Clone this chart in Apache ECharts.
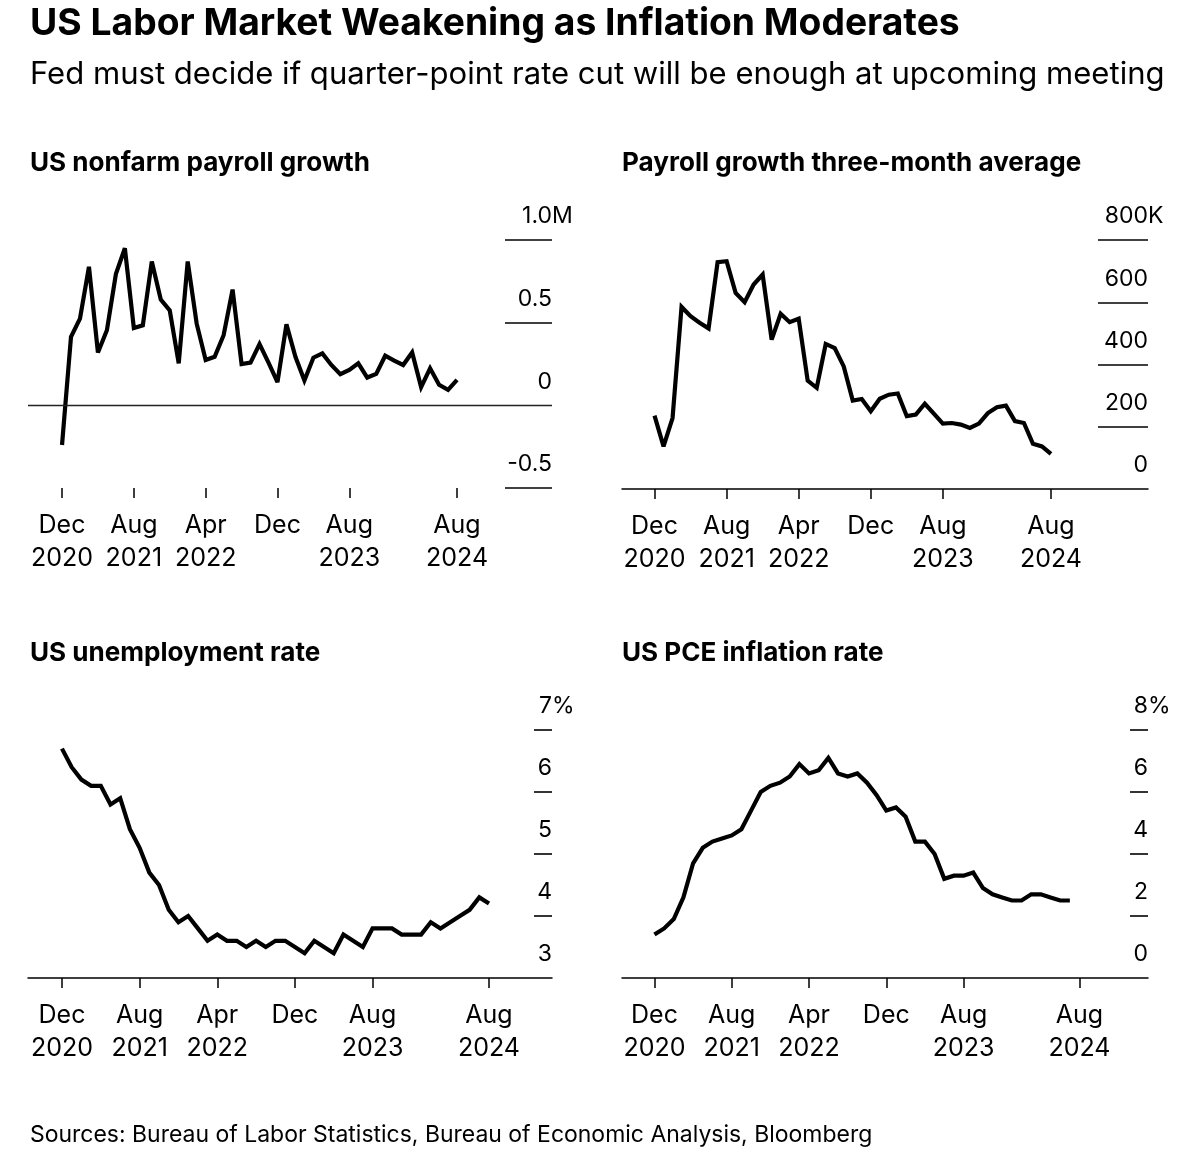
<!DOCTYPE html>
<html>
<head>
<meta charset="utf-8">
<script src="https://cdn.jsdelivr.net/npm/echarts@6.0.0/dist/echarts.min.js"></script>
<style>
html,body{margin:0;padding:0;background:#fff;}
#c{width:1200px;height:1149px;}
</style>
</head>
<body>
<div id="c"></div>
<script>
// ---------- DATA ----------
const months = ['2020-12','2021-01','2021-02','2021-03','2021-04','2021-05','2021-06','2021-07','2021-08','2021-09','2021-10','2021-11',
  '2021-12','2022-01','2022-02','2022-03','2022-04','2022-05','2022-06','2022-07','2022-08','2022-09','2022-10','2022-11',
  '2022-12','2023-01','2023-02','2023-03','2023-04','2023-05','2023-06','2023-07','2023-08','2023-09','2023-10','2023-11',
  '2023-12','2024-01','2024-02','2024-03','2024-04','2024-05','2024-06','2024-07','2024-08'];

// Monthly nonfarm payroll change, thousands
const payrolls = [-240, 414, 524, 838, 320, 454, 794, 950, 468, 484, 870, 640, 574, 254, 870, 494, 274, 294, 424, 700,
  250, 258, 370, 258, 140, 490, 294, 150, 288, 314, 244, 188, 214, 254, 168, 190, 300, 270, 244, 320, 110, 224, 124, 94, 154];

// Three-month average payroll change, thousands
const payrolls3m = [236, 137, 228, 585, 555, 534, 516, 729, 732, 630, 600, 657, 689, 480, 563, 536, 547, 348, 325, 466,
  453, 394, 284, 289, 250, 290, 303, 307, 234, 239, 274, 242, 210, 212, 207, 196, 210, 244, 263, 268, 218, 212, 145, 137, 113];

// Unemployment rate, %
const unemployment = [6.7, 6.4, 6.2, 6.1, 6.1, 5.8, 5.9, 5.4, 5.1, 4.7, 4.5, 4.1, 3.9, 4.0, 3.8, 3.6, 3.7, 3.6, 3.6, 3.5,
  3.6, 3.5, 3.6, 3.6, 3.5, 3.4, 3.6, 3.5, 3.4, 3.7, 3.6, 3.5, 3.8, 3.8, 3.8, 3.7, 3.7, 3.7, 3.9, 3.8, 3.9, 4.0, 4.1, 4.3, 4.2];

// PCE inflation y/y, % (through Jul 2024)
const pceInflation = [1.4, 1.6, 1.9, 2.6, 3.7, 4.2, 4.4, 4.5, 4.6, 4.8, 5.4, 6.0, 6.2, 6.3, 6.5, 6.9, 6.6, 6.7, 7.1, 6.6,
  6.5, 6.6, 6.3, 5.9, 5.4, 5.5, 5.2, 4.4, 4.4, 4.0, 3.2, 3.3, 3.3, 3.4, 2.9, 2.7, 2.6, 2.5, 2.5, 2.7, 2.7, 2.6, 2.5, 2.5];

// X tick positions (month index) and labels
const xTickIdx = [0, 8, 16, 24, 32, 44];
const xTickLabels = ['Dec\n2020', 'Aug\n2021', 'Apr\n2022', 'Dec', 'Aug\n2023', 'Aug\n2024'];

// Y ticks and labels
const payrollTicks = [-500, 0, 500, 1000];
const payrollTickLabels = ['-0.5', '0', '0.5', '1.0'];
const payroll3mTicks = [0, 200, 400, 600, 800];
const payroll3mTickLabels = ['0', '200', '400', '600', '800'];
const unempTicks = [3, 4, 5, 6, 7];
const unempTickLabels = ['3', '4', '5', '6', '7'];
const pceTicks = [0, 2, 4, 6, 8];
const pceTickLabels = ['0', '2', '4', '6', '8'];

const chartTitle = 'US Labor Market Weakening as Inflation Moderates';
const chartSubtitle = 'Fed must decide if quarter-point rate cut will be enough at upcoming meeting';
const panelTitles = ['US nonfarm payroll growth', 'Payroll growth three-month average', 'US unemployment rate', 'US PCE inflation rate'];
const sourceText = 'Sources: Bureau of Labor Statistics, Bureau of Economic Analysis, Bloomberg';

// ---------- STYLE / LAYOUT ----------
const FONT = "Inter, 'Liberation Sans', Arial, sans-serif";
const measureCtx = document.createElement('canvas').getContext('2d');
function textWidth(text, weight, size) {
  measureCtx.font = weight + ' ' + size + 'px ' + FONT;
  return measureCtx.measureText(text).width;
}
function fitSize(text, weight, target) {
  return 100 * target / textWidth(text, weight, 100);
}
const titleSize = fitSize(chartTitle, 'bold', 930);
const subSize = fitSize(chartSubtitle, 'normal', 1135);
const panelTitleSize = fitSize(panelTitles[0], 'bold', 340);
const sourceSize = fitSize(sourceText, 'normal', 843);
const Y_FS = 23;

// Short tick marks are drawn except where a full-width line already sits (zero line / axis line)
const panels = [
  { data: payrolls, ticks: payrollTicks, labels: payrollTickLabels, unit: 'M', skipTick: 0,
    grid: { left: 28, width: 524, top: 240, height: 248 }, xMin: -3.79, xMax: 54.58,
    tickLen: 47, axisLine: false, zeroLine: true },
  { data: payrolls3m, ticks: payroll3mTicks, labels: payroll3mTickLabels, unit: 'K', skipTick: 0,
    grid: { left: 622, width: 526, top: 240, height: 249 }, xMin: -3.61, xMax: 54.77,
    tickLen: 50, axisLine: true, zeroLine: false },
  { data: unemployment, ticks: unempTicks, labels: unempTickLabels, unit: '%', skipTick: 3,
    grid: { left: 28, width: 524, top: 730, height: 248 }, xMin: -3.50, xMax: 50.49,
    tickLen: 18, axisLine: true, zeroLine: false },
  { data: pceInflation, ticks: pceTicks, labels: pceTickLabels, unit: '%', skipTick: 0,
    grid: { left: 622, width: 526, top: 730, height: 248 }, xMin: -3.36, xMax: 51.09,
    tickLen: 18, axisLine: true, zeroLine: false }
];

const grids = [], xAxes = [], yAxes = [], series = [];
panels.forEach((p, k) => {
  grids.push(Object.assign({ containLabel: false, outerBoundsMode: 'none' }, p.grid));
  xAxes.push({
    type: 'value', gridIndex: k, min: p.xMin, max: p.xMax,
    axisLine: { show: p.axisLine, onZero: false, lineStyle: { color: '#000', width: 1.5 } },
    axisTick: { show: true, customValues: xTickIdx, length: 10, lineStyle: { color: '#000', width: 1.5 } },
    axisLabel: {
      customValues: xTickIdx, margin: 21, color: '#000', fontFamily: FONT, fontSize: 25, lineHeight: 33,
      formatter: v => { const i = xTickIdx.indexOf(Math.round(v)); return i >= 0 ? xTickLabels[i] : ''; }
    },
    splitLine: { show: false }
  });
  const top = p.ticks[p.ticks.length - 1];
  const unitW = textWidth(p.unit, 'normal', Y_FS);
  yAxes.push({
    type: 'value', gridIndex: k, position: 'right',
    min: p.ticks[0], max: top, interval: p.ticks[1] - p.ticks[0],
    axisLine: { show: false, onZero: false },
    axisTick: { show: true, inside: true, length: p.tickLen,
      customValues: p.ticks.filter(t => t !== p.skipTick),
      lineStyle: { color: '#000', width: 1.6 } },
    axisLabel: {
      inside: true, margin: -unitW, align: 'right', verticalAlign: 'bottom', padding: [0, 0, 12, 0],
      color: '#000', fontFamily: FONT, fontSize: Y_FS, lineHeight: Y_FS,
      customValues: p.ticks,
      formatter: v => {
        const i = p.ticks.findIndex(t => Math.abs(t - v) < 1e-9);
        if (i < 0) return '';
        return '{n|' + p.labels[i] + '}' + (i === p.ticks.length - 1 ? '{u|' + p.unit + '}' : '{h|' + p.unit + '}');
      },
      rich: {
        n: { fontFamily: FONT, fontSize: Y_FS, color: '#000', lineHeight: Y_FS },
        u: { fontFamily: FONT, fontSize: Y_FS, color: '#000', lineHeight: Y_FS },
        h: { fontFamily: FONT, fontSize: Y_FS, color: 'rgba(0,0,0,0)', lineHeight: Y_FS }
      }
    },
    splitLine: { show: false }
  });
  const s = {
    type: 'line', xAxisIndex: k, yAxisIndex: k, silent: true, clip: false,
    data: p.data.map((v, i) => [i, v]),
    symbol: 'none',
    lineStyle: { color: '#000', width: 4.2, join: 'miter', miterLimit: 3 }
  };
  if (p.zeroLine) {
    s.markLine = {
      silent: true, symbol: ['none', 'none'], label: { show: false }, animation: false,
      lineStyle: { color: '#222', width: 1.3, type: 'solid' },
      data: [{ yAxis: 0 }]
    };
  }
  series.push(s);
});

function txt(x, y, text, size, weight) {
  return { type: 'text', x: x, y: y, silent: true,
    style: { text: text, fill: '#000', fontFamily: FONT, fontSize: size, fontWeight: weight,
             align: 'left', verticalAlign: 'middle' } };
}

const option = {
  animation: false,
  backgroundColor: '#fff',
  grid: grids, xAxis: xAxes, yAxis: yAxes, series: series,
  graphic: [
    txt(30, 24, chartTitle, titleSize, 'bold'),
    txt(30, 75, chartSubtitle, subSize, 'normal'),
    txt(30, 163, panelTitles[0], panelTitleSize, 'bold'),
    txt(622, 163, panelTitles[1], panelTitleSize, 'bold'),
    txt(30, 653, panelTitles[2], panelTitleSize, 'bold'),
    txt(622, 653, panelTitles[3], panelTitleSize, 'bold'),
    txt(30, 1135, sourceText, sourceSize, 'normal')
  ]
};

const chart = echarts.init(document.getElementById('c'), null, { renderer: 'canvas' });
chart.setOption(option);
</script>
</body>
</html>
